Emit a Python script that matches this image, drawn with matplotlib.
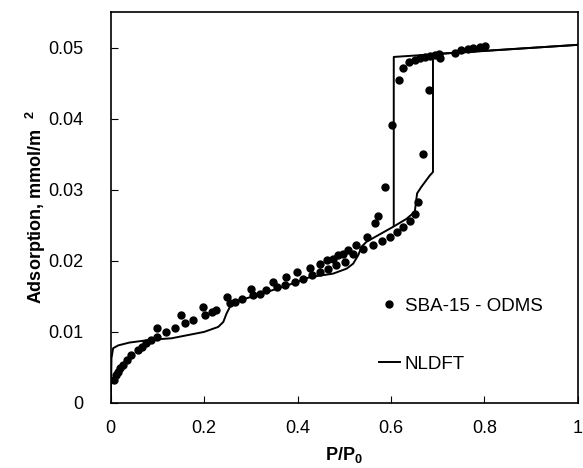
import matplotlib.pyplot as plt
from matplotlib.lines import Line2D

plt.rcParams['font.family'] = ['Liberation Sans', 'DejaVu Sans']
plt.rcParams['mathtext.fontset'] = 'custom'
plt.rcParams['mathtext.rm'] = 'Liberation Sans'
plt.rcParams['mathtext.bf'] = 'Liberation Sans:bold'

# measured points, SBA-15 - ODMS (adsorption branch)
ads_x = [0.007, 0.012, 0.016, 0.019, 0.026, 0.034, 0.044, 0.059, 0.066, 0.076,
         0.087, 0.098, 0.119, 0.137, 0.158, 0.176, 0.201, 0.216, 0.226, 0.255,
         0.266, 0.280, 0.305, 0.319, 0.333, 0.355, 0.373, 0.394, 0.412, 0.430,
         0.448, 0.465, 0.483, 0.501, 0.519, 0.540, 0.562, 0.580, 0.597, 0.612,
         0.626, 0.640, 0.651, 0.658, 0.669, 0.682, 0.704, 0.737, 0.751, 0.765,
         0.776, 0.790, 0.801]
ads_y = [0.0032, 0.0039, 0.0044, 0.0049, 0.0053, 0.0060, 0.0067, 0.0074, 0.0079, 0.0084,
         0.0088, 0.0093, 0.0100, 0.0105, 0.0112, 0.0117, 0.0124, 0.0128, 0.0131, 0.0140,
         0.0142, 0.0147, 0.0152, 0.0154, 0.0159, 0.0163, 0.0166, 0.0170, 0.0175, 0.0180,
         0.0184, 0.0189, 0.0194, 0.0199, 0.0210, 0.0217, 0.0222, 0.0228, 0.0233, 0.0241,
         0.0248, 0.0256, 0.0266, 0.0283, 0.0351, 0.0440, 0.0485, 0.0493, 0.0497, 0.0498,
         0.0500, 0.0501, 0.0502]

# measured points (desorption branch)
des_x = [0.703, 0.694, 0.683, 0.672, 0.662, 0.651, 0.639, 0.626, 0.617, 0.603,
         0.587, 0.572, 0.565, 0.548, 0.526, 0.508, 0.497, 0.487, 0.476, 0.462,
         0.448, 0.426, 0.399, 0.376, 0.348, 0.301, 0.248, 0.198, 0.151, 0.098]
des_y = [0.0491, 0.0490, 0.0488, 0.0487, 0.0485, 0.0483, 0.0480, 0.0471, 0.0455, 0.0391,
         0.0304, 0.0263, 0.0253, 0.0233, 0.0222, 0.0215, 0.0210, 0.0208, 0.0203, 0.0201,
         0.0196, 0.0190, 0.0184, 0.0177, 0.0170, 0.0161, 0.0149, 0.0135, 0.0124, 0.0105]

# NLDFT isotherm, adsorption branch
nl_ads_x = [0.0, 0.0015, 0.005, 0.016, 0.04, 0.087, 0.13, 0.2, 0.23, 0.241,
            0.248, 0.255, 0.262, 0.305, 0.376, 0.426, 0.476, 0.505, 0.519, 0.530,
            0.537, 0.548, 0.605, 0.633, 0.651, 0.656, 0.665, 0.683, 0.690, 0.690,
            1.0]
nl_ads_y = [0.0, 0.0063, 0.0077, 0.0081, 0.0085, 0.0089, 0.0091, 0.0100, 0.0107, 0.0114,
            0.0126, 0.0135, 0.0142, 0.0150, 0.0165, 0.0177, 0.0182, 0.0189, 0.0196, 0.0208,
            0.0220, 0.0227, 0.0248, 0.0259, 0.0269, 0.0295, 0.0304, 0.0320, 0.0325, 0.0491,
            0.0504]

# NLDFT desorption branch
nl_des_x = [1.0, 0.606, 0.606]
nl_des_y = [0.0504, 0.0487, 0.0249]

fig = plt.figure(figsize=(5.83, 4.68), dpi=100)
ax = fig.add_axes([0.190, 0.139, 0.801, 0.835])

ax.plot(nl_ads_x, nl_ads_y, color='black', lw=1.4)
ax.plot(nl_des_x, nl_des_y, color='black', lw=1.4)
ax.plot(ads_x, ads_y, 'o', color='black', ms=5)
ax.plot(des_x, des_y, 'o', color='black', ms=5)

ax.set_xlim(0, 1)
ax.set_ylim(0, 0.055)
ax.set_xticks([0, 0.2, 0.4, 0.6, 0.8, 1])
ax.set_xticklabels(['0', '0.2', '0.4', '0.6', '0.8', '1'])
ax.set_yticks([0, 0.01, 0.02, 0.03, 0.04, 0.05])
ax.set_yticklabels(['0', '0.01', '0.02', '0.03', '0.04', '0.05'])
ax.tick_params(axis='both', direction='in', length=5, labelsize=13)
ax.tick_params(axis='x', pad=12)
ax.tick_params(axis='y', pad=20)
for s in ax.spines.values():
    s.set_linewidth(1.2)

ax.set_xlabel('P/P$_\\mathbf{0}$', fontsize=13, fontweight='bold', labelpad=6)
ax.set_ylabel('Adsorption, mmol/m  $^\\mathbf{2}$', fontsize=13, fontweight='bold', labelpad=0)

handles = [Line2D([], [], ls='none', marker='o', color='black', ms=5),
           Line2D([], [], color='black', lw=1.4)]
ax.legend(handles, ['SBA-15 - ODMS', 'NLDFT'], loc='upper left',
          bbox_to_anchor=(0.538, 0.313), frameon=False, fontsize=13.5,
          handlelength=1.12, handletextpad=0.27, labelspacing=2.2, numpoints=1)

plt.savefig('out.png', dpi=100)
